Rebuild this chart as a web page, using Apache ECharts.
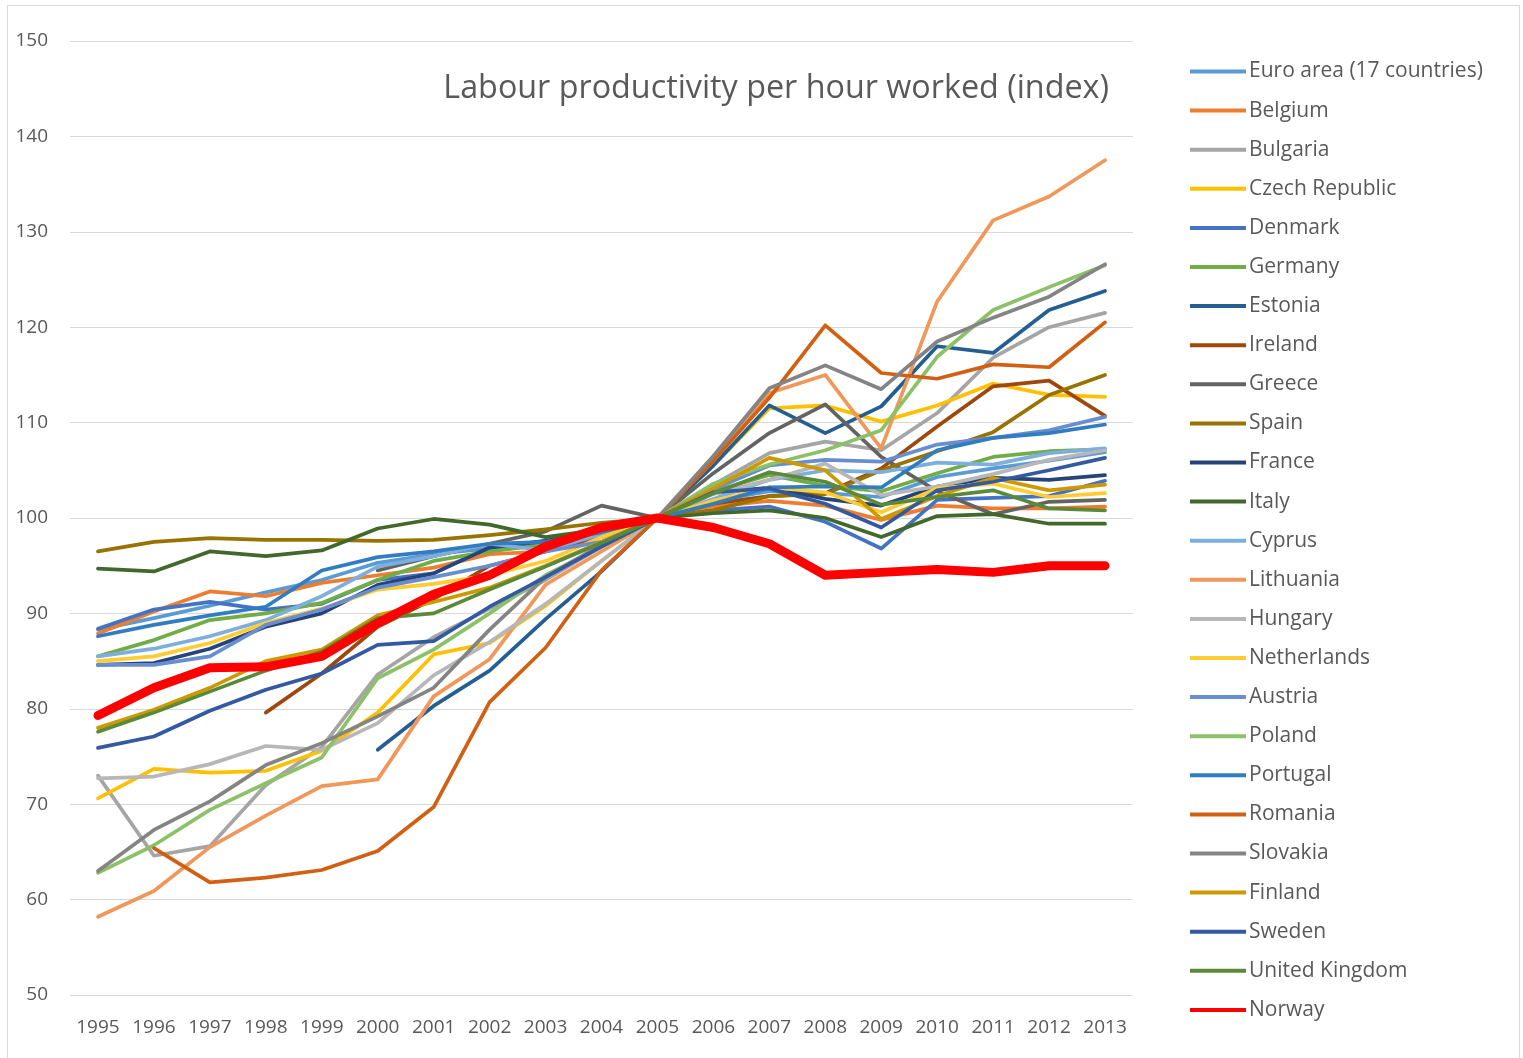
<!DOCTYPE html>
<html>
<head>
<meta charset="utf-8">
<title>Labour productivity per hour worked (index)</title>
<script src="https://cdn.jsdelivr.net/npm/echarts@6/dist/echarts.min.js"></script>
<style>
  html, body { margin: 0; padding: 0; background: #fff; }
  #frame {
    position: absolute; left: 7px; top: 5px; width: 1513px; height: 1060px;
    border: 1px solid #d9d9d9; box-sizing: border-box;
  }
  #chart { position: absolute; left: 0; top: 0; width: 1523px; height: 1058px; }
</style>
</head>
<body>
<div id="frame"></div>
<div id="chart"></div>
<script>
// 2005 = 100
const years = ['1995', '1996', '1997', '1998', '1999', '2000', '2001', '2002', '2003', '2004',
  '2005', '2006', '2007', '2008', '2009', '2010', '2011', '2012', '2013'];
const yTicks = [50, 60, 70, 80, 90, 100, 110, 120, 130, 140, 150];

const euroArea = [88.3, 89.5, 90.8, 92.2, 93.5, 95.3, 96.2, 96.8, 97.6, 98.7, 100, 101.8, 102.8, 102.6, 102.2, 104.3, 105.2, 106.0, 106.9];
const belgium = [87.9, 90.2, 92.3, 91.8, 93.2, 94.0, 94.8, 96.2, 96.5, 98.2, 100, 101.2, 101.8, 101.3, 99.8, 101.3, 101.0, 101.0, 101.2];
const bulgaria = [73.0, 64.6, 65.6, 72.0, 76.0, 83.6, 87.5, 90.5, 93.5, 97.0, 100, 103.5, 106.8, 108.0, 107.1, 111.0, 116.8, 120.0, 121.5];
const czech = [70.6, 73.7, 73.3, 73.5, 75.6, 79.6, 85.7, 86.9, 90.8, 95.5, 100, 105.5, 111.5, 111.8, 110.1, 111.8, 114.1, 112.9, 112.7];
const denmark = [88.4, 90.4, 91.2, 90.4, 91.0, 93.5, 94.2, 97.0, 97.3, 98.3, 100, 100.8, 101.2, 99.6, 96.8, 101.9, 102.1, 102.3, 103.9];
const germany = [85.5, 87.2, 89.3, 90.0, 91.1, 93.5, 95.5, 96.5, 97.2, 98.2, 100, 102.8, 104.5, 103.4, 102.8, 104.7, 106.4, 107.0, 107.2];
const estonia = [null, null, null, null, null, 75.7, 80.3, 84.0, 89.4, 94.4, 100, 105.5, 111.8, 108.9, 111.7, 118.0, 117.3, 121.8, 123.8];
const ireland = [null, null, null, 79.6, 83.7, 88.6, 91.5, 95.0, 96.5, 98.0, 100, 101.5, 102.3, 102.6, 105.2, 109.6, 113.8, 114.4, 110.7];
const greece = [null, null, null, null, null, 94.5, 96.0, 97.3, 98.6, 101.3, 100, 104.7, 108.9, 111.9, 106.4, 102.8, 100.4, 101.7, 101.9];
const spain = [96.5, 97.5, 97.9, 97.7, 97.7, 97.6, 97.7, 98.2, 98.8, 99.5, 100, 100.8, 102.3, 102.5, 105.0, 107.0, 109.0, 112.9, 115.0];
const france = [84.6, 84.8, 86.3, 88.6, 90.0, 93.0, 94.2, 96.9, 97.6, 98.6, 100, 102.6, 103.2, 102.0, 101.3, 103.3, 104.2, 104.0, 104.5];
const italy = [94.7, 94.4, 96.5, 96.0, 96.6, 98.9, 99.9, 99.3, 98.0, 98.8, 100, 100.5, 100.8, 100.0, 98.0, 100.2, 100.4, 99.4, 99.4];
const cyprus = [85.5, 86.3, 87.6, 89.3, 91.8, 94.9, 96.0, 97.3, 96.6, 98.3, 100, 102.0, 104.0, 105.0, 104.8, 105.8, 105.6, 106.8, 107.3];
const lithuania = [58.2, 60.9, 65.5, 68.8, 71.9, 72.6, 81.3, 85.2, 93.0, 96.5, 100, 106.0, 113.1, 115.0, 107.3, 122.7, 131.2, 133.7, 137.5];
const hungary = [72.7, 72.9, 74.2, 76.1, 75.7, 78.5, 83.5, 87.0, 91.0, 95.5, 100, 102.5, 104.0, 105.7, 102.4, 103.3, 104.6, 106.1, 107.1];
const netherlands = [85.0, 85.5, 86.9, 89.0, 90.5, 92.5, 93.1, 94.0, 95.5, 98.0, 100, 101.8, 103.2, 102.7, 100.6, 103.1, 103.6, 102.2, 102.6];
const austria = [84.6, 84.6, 85.5, 88.8, 90.4, 92.7, 93.8, 95.0, 96.5, 97.5, 100, 103.0, 105.5, 106.1, 105.9, 107.7, 108.4, 109.2, 110.6];
const poland = [62.8, 65.7, 69.4, 72.2, 74.9, 83.2, 86.2, 90.0, 94.0, 97.0, 100, 103.6, 105.6, 107.1, 109.2, 116.9, 121.8, 124.2, 126.5];
const portugal = [87.6, 88.8, 89.8, 90.7, 94.5, 95.9, 96.5, 97.3, 97.5, 98.5, 100, 101.5, 103.2, 103.3, 103.2, 107.1, 108.4, 108.9, 109.8];
const romania = [null, 65.4, 61.8, 62.3, 63.1, 65.1, 69.7, 80.7, 86.4, 94.5, 100, 106.0, 112.6, 120.2, 115.2, 114.6, 116.1, 115.8, 120.5];
const slovakia = [63.0, 67.3, 70.3, 74.1, 76.4, 79.2, 82.2, 88.3, 93.8, 97.2, 100, 106.5, 113.6, 116.0, 113.5, 118.5, 121.0, 123.2, 126.6];
const finland = [78.0, 79.9, 82.2, 85.0, 86.2, 89.8, 91.2, 92.7, 95.0, 97.5, 100, 103.1, 106.3, 105.0, 99.9, 102.3, 104.2, 102.9, 103.5];
const sweden = [75.9, 77.1, 79.8, 82.0, 83.7, 86.7, 87.1, 90.7, 93.8, 97.0, 100, 102.7, 103.1, 101.5, 99.0, 102.9, 103.8, 105.0, 106.3];
const unitedKingdom = [77.6, 79.6, 81.8, 84.0, 86.0, 89.5, 90.0, 92.5, 94.9, 97.4, 100, 102.6, 104.8, 103.8, 101.4, 102.2, 102.9, 101.0, 100.8];
const norway = [79.3, 82.2, 84.3, 84.4, 85.5, 89.0, 92.0, 94.0, 97.0, 99.0, 100, 99.0, 97.3, 94.0, 94.3, 94.6, 94.3, 95.0, 95.0];

const countries = [
  ['Euro area (17 countries)', euroArea, '#5B9BD5'],
  ['Belgium', belgium, '#ED7D31'],
  ['Bulgaria', bulgaria, '#A5A5A5'],
  ['Czech Republic', czech, '#FFC000'],
  ['Denmark', denmark, '#4472C4'],
  ['Germany', germany, '#70AD47'],
  ['Estonia', estonia, '#255E91'],
  ['Ireland', ireland, '#9E480E'],
  ['Greece', greece, '#636363'],
  ['Spain', spain, '#997300'],
  ['France', france, '#264478'],
  ['Italy', italy, '#43682B'],
  ['Cyprus', cyprus, '#7CAFDD'],
  ['Lithuania', lithuania, '#F1975A'],
  ['Hungary', hungary, '#B7B7B7'],
  ['Netherlands', netherlands, '#FFCD33'],
  ['Austria', austria, '#698ED0'],
  ['Poland', poland, '#8CC168'],
  ['Portugal', portugal, '#327DC2'],
  ['Romania', romania, '#D26012'],
  ['Slovakia', slovakia, '#848484'],
  ['Finland', finland, '#CC9A00'],
  ['Sweden', sweden, '#335AA1'],
  ['United Kingdom', unitedKingdom, '#5A8A39'],
  ['Norway', norway, '#FF0000']
];

const chart = echarts.init(document.getElementById('chart'));

const series = countries.map(([name, data, color]) => ({
  name: name,
  type: 'line',
  data: data,
  symbol: 'none',
  connectNulls: false,
  color: color,
  lineStyle: {
    color: color,
    width: name === 'Norway' ? 9 : 3.7,
    cap: 'round',
    join: 'round'
  },
  emphasis: { disabled: true }
}));

const option = {
  animation: false,
  textStyle: { fontFamily: 'Open Sans' },
  title: {
    text: 'Labour productivity per hour worked (index)',
    right: 409,
    top: 68,
    textStyle: { fontSize: 32.3, fontWeight: 'normal', color: '#595959', fontFamily: 'Open Sans' }
  },
  grid: { left: 70, right: 390, top: 41, bottom: 63 },
  legend: {
    orient: 'vertical',
    left: 1185,
    top: 56,
    itemGap: 18.1,
    itemWidth: 56,
    itemHeight: 4,
    icon: 'rect',
    textStyle: { fontSize: 21, color: '#595959', padding: [0, 0, 0, -2] },
    data: countries.map(c => c[0])
  },
  xAxis: {
    type: 'category',
    data: years,
    boundaryGap: true,
    axisLine: { show: false },
    axisTick: { show: false },
    axisLabel: { fontSize: 19, color: '#595959', margin: 23, interval: 0 }
  },
  yAxis: {
    type: 'value',
    min: yTicks[0],
    max: yTicks[yTicks.length - 1],
    interval: 10,
    axisLine: { show: false },
    axisTick: { show: false },
    axisLabel: { fontSize: 19, color: '#595959', margin: 22 },
    splitLine: { lineStyle: { color: '#d9d9d9', width: 1 } }
  },
  series: series
};

chart.setOption(option);
</script>
</body>
</html>
